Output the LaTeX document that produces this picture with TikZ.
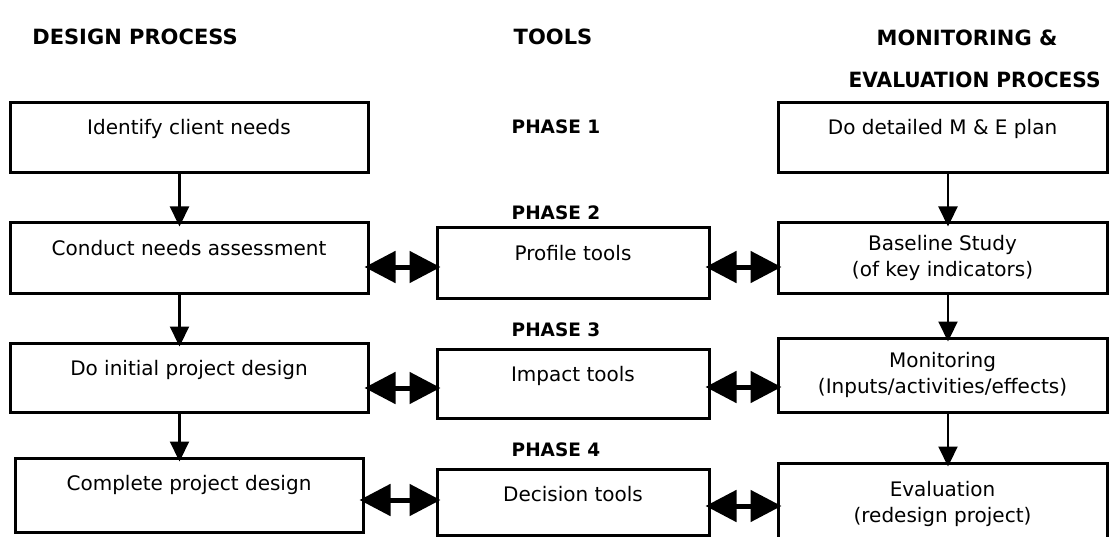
\documentclass[tikz,border=0pt]{standalone}
\usepackage{fontspec}
\setmainfont{DejaVu Sans}
\usetikzlibrary{arrows.meta}

\begin{document}
\begin{tikzpicture}[x=1pt,y=-1pt,
  box/.style={draw,line width=3pt,inner sep=0pt,align=center,font=\fontsize{20}{26}\selectfont},
  oneline/.style={text height=32pt,text depth=#1},
  head/.style={font=\fontsize{21}{26}\bfseries\selectfont},
  phase/.style={font=\fontsize{18.5}{22}\bfseries\selectfont},
  varr/.style={-{Triangle[length=20pt,width=19pt]},line width=2.2pt,shorten >=-5pt},
  harr/.style={{Triangle[length=31pt,width=31pt]}-{Triangle[length=31pt,width=31pt]},line width=5pt,shorten <=-5pt,shorten >=-5pt}]
  \useasboundingbox (0,0) rectangle (1110,537);
  \clip (0,0) rectangle (1110,537);
  % column headings
  \node[head] (hdesign) at (135,37) {DESIGN PROCESS};
  \node[head] (htools) at (553,37) {TOOLS};
  \node[head] (hmon) at (967,38) {MONITORING \&};
  \node[head,anchor=east,xscale=0.96] (heval) at (1104,80) {EVALUATION PROCESS};
  % design process
  \node[box,oneline=38pt,minimum width=358pt] (needs) at (189,138) {Identify client needs};
  \node[box,oneline=38pt,minimum width=358pt] (assess) at (189,258) {Conduct needs assessment};
  \node[box,oneline=37pt,minimum width=358pt] (initdes) at (189,377.5) {Do initial project design};
  \node[box,oneline=42pt,minimum width=348pt] (fulldes) at (189,495) {Complete project design};
  % tools
  \foreach \n/\y in {1/127,2/213,3/330,4/450} \node[phase] (ph\n) at (556,\y) {PHASE \n};
  \node[box,oneline=38pt,minimum width=272pt] (profile) at (573,263) {Profile tools};
  \node[box,oneline=37pt,minimum width=272pt] (impact) at (573,383.5) {Impact tools};
  \node[box,oneline=34pt,minimum width=272pt] (decision) at (573,502) {Decision tools};
  % monitoring and evaluation
  \node[box,oneline=38pt,minimum width=329pt] (meplan) at (942.5,138) {Do detailed M \& E plan};
  \node[box,minimum width=329pt,minimum height=70pt] (baseline) at (942.5,258) {Baseline Study\\(of key indicators)};
  \node[box,minimum width=329pt,minimum height=74pt] (monitor) at (942.5,375) {Monitoring\\(Inputs/activities/effects)};
  \node[box,minimum width=329pt,minimum height=82pt] (evaluate) at (942.5,504) {Evaluation\\(redesign project)};
  % flow down each column
  \foreach \a/\b in {needs/assess,assess/initdes,initdes/fulldes} \draw[varr] ([xshift=-9.5pt]\a.south) -- ([xshift=-9.5pt]\b.north);
  \foreach \a/\b in {meplan/baseline,baseline/monitor,monitor/evaluate} \draw[varr] ([xshift=5.5pt]\a.south) -- ([xshift=5.5pt]\b.north);
  % links to the tools
  \foreach \a/\b/\s in {assess/profile/-9,profile/baseline/-4,initdes/impact/-10.5,impact/monitor/-3.5,fulldes/decision/-5,decision/evaluate/-4}
    \draw[harr] ([yshift=\s pt]\a.east) -- ([yshift=\s pt]\a.east -| \b.west);
\end{tikzpicture}
\end{document}
